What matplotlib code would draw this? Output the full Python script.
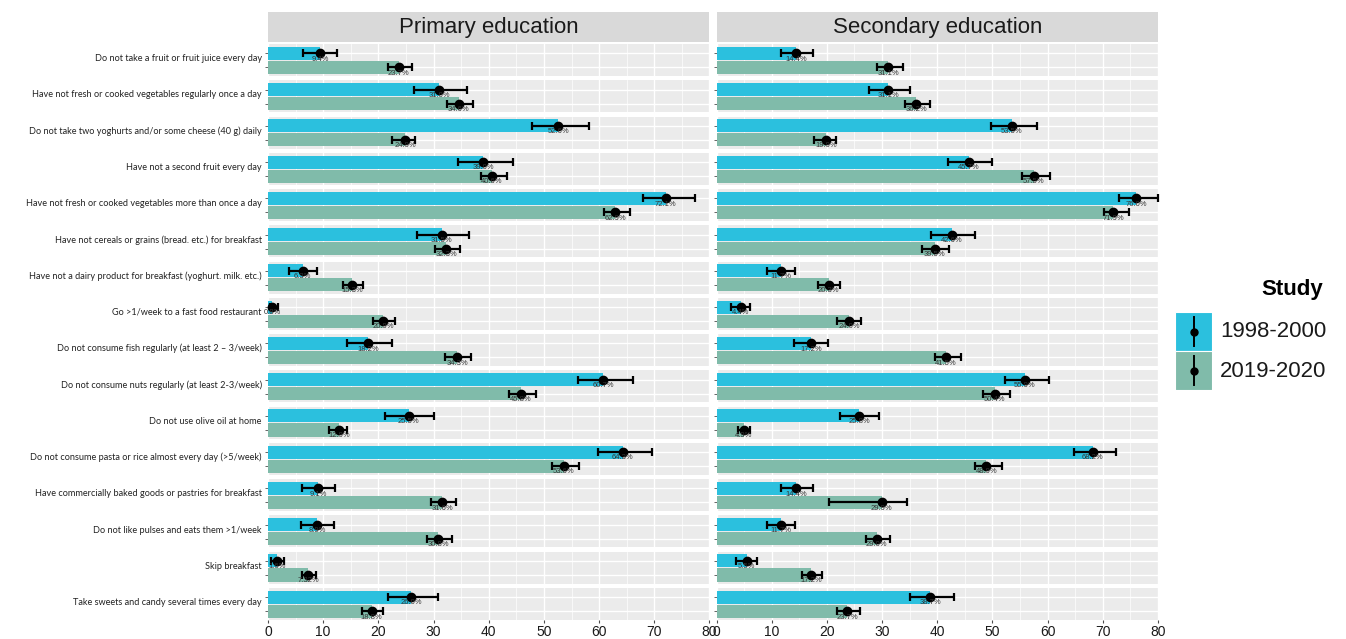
import matplotlib
matplotlib.use("Agg")
import matplotlib.pyplot as plt
from matplotlib.patches import Rectangle

# Items (one row of panels each), top to bottom
items = [
    "Do not take a fruit or fruit juice every day",
    "Have not fresh or cooked vegetables regularly once a day",
    "Do not take two yoghurts and/or some cheese (40 g) daily",
    "Have not a second fruit every day",
    "Have not fresh or cooked vegetables more than once a day",
    "Have not cereals or grains (bread. etc.) for breakfast",
    "Have not a dairy product for breakfast (yoghurt. milk. etc.)",
    "Go >1/week to a fast food restaurant",
    "Do not consume fish regularly (at least 2 \u2013 3/week)",
    "Do not consume nuts regularly (at least 2-3/week)",
    "Do not use olive oil at home",
    "Do not consume pasta or rice almost every day (>5/week)",
    "Have commercially baked goods or pastries for breakfast",
    "Do not like pulses and eats them >1/week",
    "Skip breakfast",
    "Take sweets and candy several times every day",
]
levels = ["Primary education", "Secondary education"]
studies = ["1998-2000", "2019-2020"]

# Primary education
prim_old = [9.4, 31.0, 52.6, 39.0, 72.1, 31.5, 6.3, 0.8, 18.2, 60.7, 25.5, 64.3, 9.1, 8.9, 1.6, 26.0]
prim_old_lo = [6.4, 26.4, 47.9, 34.4, 67.9, 27.0, 3.8, 0.3, 14.4, 56.1, 21.2, 59.8, 6.2, 5.9, 0.5, 21.7]
prim_old_hi = [12.5, 36.1, 58.2, 44.4, 77.3, 36.5, 8.8, 1.8, 22.4, 66.1, 30.1, 69.6, 12.2, 12.0, 2.9, 30.8]
prim_new = [23.7, 34.6, 24.9, 40.6, 62.9, 32.3, 15.3, 20.9, 34.3, 45.8, 12.9, 53.6, 31.6, 30.8, 7.32, 18.8]
prim_new_lo = [21.8, 32.5, 22.5, 38.6, 60.9, 30.3, 13.6, 19.1, 32.1, 43.6, 11.0, 51.5, 29.5, 28.8, 6.1, 17.1]
prim_new_hi = [26.1, 37.1, 26.7, 43.3, 65.6, 34.8, 17.2, 23.1, 36.8, 48.5, 14.3, 56.4, 34.1, 33.3, 8.7, 20.9]
prim_old_lab = ["9.4%", "31.0%", "52.6%", "39.0%", "72.1%", "31.5%", "6.3%", "0.8%", "18.2%", "60.7%",
                "25.5%", "64.3%", "9.1%", "8.9%", "1.6%", "26.0%"]
prim_new_lab = ["23.7%", "34.6%", "24.9%", "40.6%", "62.9%", "32.3%", "15.3%", "20.9%", "34.3%", "45.8%",
                "12.9%", "53.6%", "31.6%", "30.8%", "7.32%", "18.8%"]

# Secondary education
sec_old = [14.4, 31.1, 53.5, 45.7, 76.0, 42.6, 11.7, 4.4, 17.2, 55.9, 25.8, 68.2, 14.4, 11.7, 5.5, 38.7]
sec_old_lo = [11.7, 27.6, 49.8, 42.0, 73.0, 38.9, 9.1, 2.6, 14.0, 52.2, 22.3, 64.8, 11.7, 9.1, 3.6, 35.0]
sec_old_hi = [17.4, 35.0, 58.0, 50.0, 80.0, 46.9, 14.3, 6.1, 20.2, 60.3, 29.4, 72.4, 17.4, 14.3, 7.3, 43.0]
sec_new = [31.1, 36.2, 19.9, 57.5, 71.9, 39.5, 20.3, 24.0, 41.5, 50.4, 4.9, 48.9, 29.9, 29.0, 17.2, 23.7]
sec_new_lo = [29.1, 34.1, 17.7, 55.4, 70.3, 37.3, 18.4, 21.9, 39.5, 48.3, 3.8, 46.8, 20.3, 27.0, 15.4, 21.9]
sec_new_hi = [33.7, 38.7, 21.6, 60.4, 74.7, 42.1, 22.4, 26.2, 44.3, 53.1, 6.1, 51.7, 34.6, 31.5, 19.2, 26.0]
sec_old_lab = ["14.4%", "31.1%", "53.5%", "45.7%", "76.0%", "42.6%", "11.7%", "4.4%", "17.2%", "55.9%",
               "25.8%", "68.2%", "14.4%", "11.7%", "5.5%", "38.7%"]
sec_new_lab = ["31.1%", "36.2%", "19.9%", "57.5%", "71.9%", "39.5%", "20.3%", "24.0%", "41.5%", "50.4%",
               "4.9%", "48.9%", "29.9%", "29.0%", "17.2%", "23.7%"]

x_ticks = [0, 10, 20, 30, 40, 50, 60, 70, 80]

colors = ["#2BC0DE", "#80BBAA"]

panels = [
    [(prim_old, prim_old_lo, prim_old_hi, prim_old_lab), (prim_new, prim_new_lo, prim_new_hi, prim_new_lab)],
    [(sec_old, sec_old_lo, sec_old_hi, sec_old_lab), (sec_new, sec_new_lo, sec_new_hi, sec_new_lab)],
]

plt.rcParams["font.family"] = ["Liberation Sans", "DejaVu Sans"]

fig = plt.figure(figsize=(13.46, 6.39), dpi=100)
n = len(items)
gs = fig.add_gridspec(n, 2, left=268 / 1346, right=1158 / 1346, top=1 - 44 / 639, bottom=1 - 620 / 639,
                      hspace=0.13, wspace=0.016)

ypos = [1, 0]  # 1998-2000 on top, 2019-2020 below
for c, level in enumerate(levels):
    for r in range(n):
        ax = fig.add_subplot(gs[r, c])
        ax.set_facecolor("#EBEBEB")
        ax.set_xlim(0, 80)
        ax.set_ylim(-0.62, 1.66)
        ax.set_xticks(x_ticks)
        ax.set_xticks([5, 15, 25, 35, 45, 55, 65, 75], minor=True)
        ax.grid(True, which="major", axis="x", color="white", lw=1.0, zorder=0)
        ax.grid(True, which="minor", axis="x", color="white", lw=0.5, zorder=0)
        ax.set_yticks(ypos)
        ax.grid(True, which="major", axis="y", color="white", lw=1.0, zorder=0)
        ax.set_axisbelow(True)
        for s in ax.spines.values():
            s.set_visible(False)

        for k, (vals, lo, hi, labs) in enumerate(panels[c]):
            y = ypos[k]
            ax.barh(y, vals[r], height=0.93, color=colors[k], zorder=1)
            ax.errorbar(vals[r], y, xerr=[[vals[r] - lo[r]], [hi[r] - vals[r]]], fmt="o", color="black",
                        ms=6, elinewidth=1.6, capsize=3, capthick=1.6, zorder=3, clip_on=False)
            ax.text(vals[r], y - 0.16, labs[r], ha="center", va="top", fontsize=5.5, color="#333333",
                    zorder=4)

        ax.tick_params(axis="y", length=2.5, color="#4D4D4D", labelleft=False, width=0.6)
        if c == 0:
            ax.text(-0.014, 0.62, items[r], transform=ax.get_yaxis_transform(), ha="right", va="center",
                    fontsize=6.6, color="#222222", family=["Lato", "DejaVu Sans"])
        if r == n - 1:
            ax.tick_params(axis="x", which="major", length=2.5, color="#4D4D4D", labelsize=10,
                           labelcolor="#1A1A1A", pad=1)
            ax.set_xticklabels([str(t) for t in x_ticks])
        else:
            ax.tick_params(axis="x", which="both", length=0, labelbottom=False)
        ax.tick_params(axis="x", which="minor", length=0)

        if r == 0:
            bb = ax.get_position()
            fig.patches.append(Rectangle((bb.x0, 1 - 42 / 639), bb.width, 30 / 639, transform=fig.transFigure,
                                         facecolor="#D9D9D9", edgecolor="none"))
            fig.text(bb.x0 + bb.width / 2, 1 - 27 / 639, level, ha="center", va="center", fontsize=16,
                     color="#1A1A1A")

# Legend
fig.text(1292 / 1346, 1 - 290 / 639, "Study", ha="center", va="center", fontsize=16, fontweight="bold",
         color="black")
leg = fig.add_axes([1175 / 1346, 1 - 390 / 639, 37 / 1346, 78 / 639])
leg.set_xlim(0, 1)
leg.set_ylim(0, 2)
leg.axis("off")
for k, study in enumerate(studies):
    y0 = 1 - k
    leg.add_patch(Rectangle((0, y0), 1, 1, facecolor=colors[k], edgecolor="white", lw=0.8))
    leg.plot([0.5, 0.5], [y0 + 0.12, y0 + 0.88], color="black", lw=1.4)
    leg.plot([0.5], [y0 + 0.5], "o", color="black", ms=5)
    fig.text(1220 / 1346, 1 - (332 + 39 * k) / 639, study, ha="left", va="center", fontsize=16,
             color="#1A1A1A")

fig.savefig("out.png", dpi=100)
